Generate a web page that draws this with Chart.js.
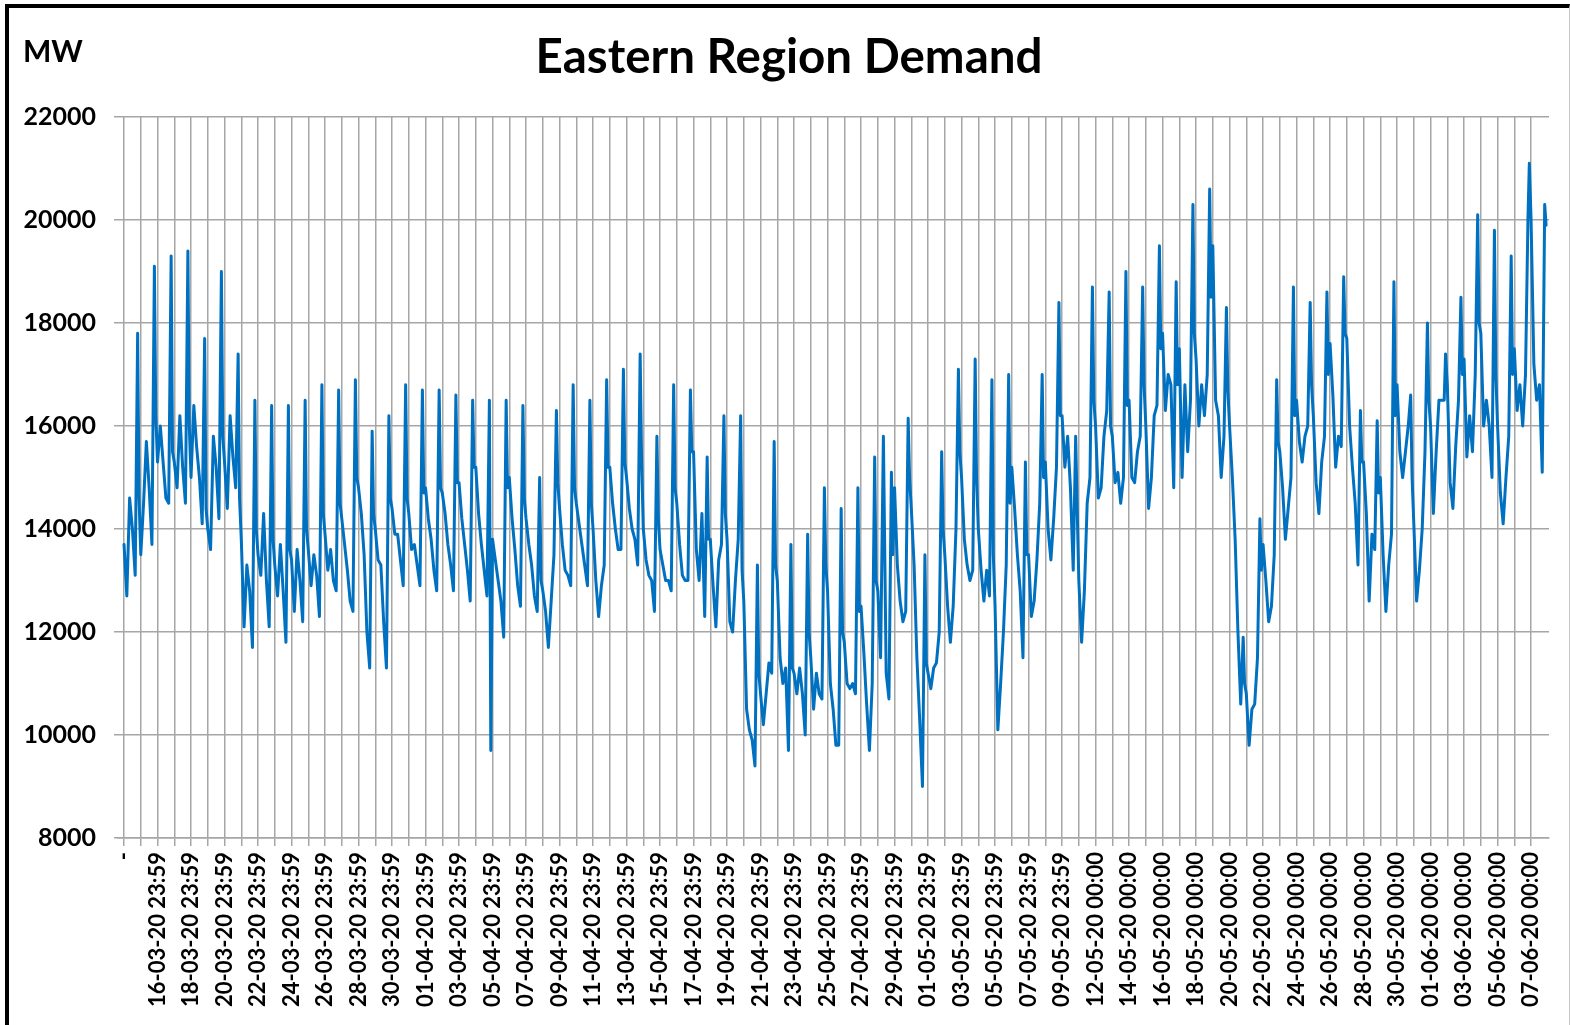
<!DOCTYPE html>
<html>
<head>
<meta charset="utf-8">
<script src="https://cdn.jsdelivr.net/npm/chart.js@4.4.1/dist/chart.umd.min.js"></script>
<style>
html,body{margin:0;padding:0;background:#fff;}
#wrap{position:relative;width:1570px;height:1025px;overflow:hidden;background:#fff;}
#c{position:absolute;left:0;top:0;}
#frame{position:absolute;left:5px;top:4px;width:1560px;height:1060px;border-left:4px solid #000;border-top:4px solid #000;border-right:1px solid #c8c8c8;pointer-events:none;}
</style>
</head>
<body>
<div id="wrap"><canvas id="c" width="1570" height="1025"></canvas><div id="frame"></div></div>
<script>
// Hours of the day at which each daily row of values is sampled
const sampleHours = [0, 4, 8, 12, 16, 19.5, 21.5];

// Demand in MW, one row per day (15-03-2020 ... 31-03-2020)
const marchMW = [
  [13700, 12700, 14600, 14000, 13100, 17800, 14600],
  [13500, 14500, 15700, 14800, 13700, 19100, 16200],
  [15300, 16000, 15300, 14600, 14500, 19300, 15500],
  [15300, 14800, 16200, 15200, 14500, 19400, 16000],
  [15000, 16400, 15600, 15000, 14100, 17700, 14400],
  [14000, 13600, 15800, 15200, 14200, 19000, 15800],
  [15300, 14400, 16200, 15400, 14800, 17400, 14600],
  [13800, 12100, 13300, 12800, 11700, 16500, 14000],
  [13500, 13100, 14300, 13000, 12100, 16400, 13800],
  [13300, 12700, 13700, 12800, 11800, 16400, 13600],
  [13400, 12400, 13600, 13000, 12200, 16500, 14000],
  [13600, 12900, 13500, 13100, 12300, 16800, 14300],
  [13900, 13200, 13600, 13000, 12800, 16700, 14500],
  [14200, 13700, 13200, 12600, 12400, 16900, 15000],
  [14800, 14300, 13500, 12000, 11300, 15900, 14300],
  [14000, 13400, 13300, 12200, 11300, 16200, 14600],
  [14400, 13900, 13900, 13400, 12900, 16800, 14600]
];
// 01-04-2020 ... 30-04-2020
const aprilMW = [
  [14300, 13600, 13700, 13300, 12900, 16700, 14700],
  [14800, 14200, 13800, 13200, 12800, 16700, 14800],
  [14700, 14300, 13700, 13300, 12800, 16600, 14900],
  [14900, 14200, 13700, 13200, 12600, 16500, 15200],
  [15200, 14300, 13700, 13200, 12700, 16500, 9700],
  [13800, 13400, 13000, 12600, 11900, 16500, 14800],
  [15000, 14200, 13600, 12900, 12500, 16400, 14600],
  [14200, 13700, 13300, 12700, 12400, 15000, 13000],
  [12800, 12400, 11700, 12600, 13500, 16300, 14900],
  [14400, 13700, 13200, 13100, 12900, 16800, 14800],
  [14500, 14100, 13700, 13300, 12900, 16500, 14500],
  [14000, 13000, 12300, 12900, 13300, 16900, 15200],
  [15200, 14500, 14000, 13600, 13600, 17100, 15300],
  [15000, 14400, 14000, 13800, 13300, 17400, 15400],
  [14000, 13400, 13100, 13000, 12400, 15800, 14200],
  [13600, 13300, 13000, 13000, 12800, 16800, 14800],
  [14500, 13700, 13100, 13000, 13000, 16700, 15500],
  [15500, 13600, 13000, 14300, 12300, 15400, 13800],
  [13800, 12900, 12100, 13400, 13700, 16200, 14300],
  [13800, 12200, 12000, 13000, 13800, 16200, 13200],
  [12600, 10500, 10100, 9900, 9400, 13300, 11200],
  [10800, 10200, 10800, 11400, 11200, 15700, 13300],
  [13000, 11500, 11000, 11300, 9700, 13700, 11300],
  [11200, 10800, 11300, 10800, 10000, 13900, 12000],
  [11500, 10500, 11200, 10800, 10700, 14800, 13300],
  [12800, 11000, 10500, 9800, 9800, 14400, 12000],
  [11800, 11000, 10900, 11000, 10800, 14800, 12400],
  [12500, 11600, 10600, 9700, 11000, 15400, 13000],
  [12800, 11500, 15800, 11200, 10700, 15100, 13500],
  [14800, 13300, 12600, 12200, 12400, 16150, 15000]
];
// 01-05-2020 ... 31-05-2020
const mayMW = [
  [14400, 13300, 11500, 10300, 9000, 13500, 11400],
  [11200, 10900, 11300, 11400, 12000, 15500, 14000],
  [13500, 12500, 11800, 12500, 14000, 17100, 15500],
  [15000, 13800, 13300, 13000, 13200, 17300, 15000],
  [14000, 13200, 12600, 13200, 12700, 16900, 13500],
  [12500, 10100, 11000, 12000, 13300, 17000, 14500],
  [15200, 14400, 13500, 12800, 11500, 15300, 13500],
  [13500, 12300, 12600, 13400, 14500, 17000, 15000],
  [15300, 14000, 13400, 14200, 15200, 18400, 16200],
  [16200, 15200, 15800, 14800, 13200, 15800, 14500],
  [13000, 11800, 12800, 14500, 15000, 18700, 16500],
  [16000, 14600, 14800, 15800, 16300, 18600, 16000],
  [15800, 14900, 15100, 14500, 15000, 19000, 16400],
  [16500, 15000, 14900, 15500, 15800, 18700, 16800],
  [16000, 14400, 15000, 16200, 16400, 19500, 17500],
  [17800, 16300, 17000, 16800, 14800, 18800, 16800],
  [17500, 15000, 16800, 15500, 16500, 20300, 17800],
  [17300, 16000, 16800, 16200, 17000, 20600, 18500],
  [19500, 16500, 16200, 15000, 15800, 18300, 16700],
  [16000, 15000, 13800, 12000, 10600, 11900, 11000],
  [10800, 9800, 10500, 10600, 11500, 14200, 13200],
  [13700, 13000, 12200, 12500, 13500, 16900, 15700],
  [15500, 14800, 13800, 14400, 15000, 18700, 16200],
  [16500, 15700, 15300, 15800, 16000, 18400, 16800],
  [16200, 14900, 14300, 15300, 15800, 18600, 17000],
  [17600, 16600, 15200, 15800, 15600, 18900, 17800],
  [17700, 16000, 15200, 14500, 13300, 16300, 15300],
  [15300, 14300, 12600, 13900, 13600, 16100, 14700],
  [15000, 13500, 12400, 13300, 13900, 18800, 16200],
  [16800, 15500, 15000, 15500, 16000, 16600, 15000],
  [14100, 12600, 13200, 14000, 15500, 18000, 16500]
];
// 01-06-2020 ... 07-06-2020
const juneMW = [
  [16000, 14300, 15500, 16500, 16500, 16500, 17400],
  [16800, 14900, 14400, 15600, 16500, 18500, 17000],
  [17300, 15400, 16200, 15500, 17000, 20100, 18000],
  [17800, 16000, 16500, 16000, 15000, 19800, 17000],
  [16000, 14700, 14100, 15000, 15800, 19300, 17000],
  [17500, 16300, 16800, 16000, 17000, 20000, 21100],
  [20000, 17200, 16500, 16800, 15100, 20300, 19900]
];

// Category tick labels, one every second day boundary
const tickLabels = [
  "-",
  "16-03-20 23:59","18-03-20 23:59","20-03-20 23:59","22-03-20 23:59","24-03-20 23:59",
  "26-03-20 23:59","28-03-20 23:59","30-03-20 23:59",
  "01-04-20 23:59","03-04-20 23:59","05-04-20 23:59","07-04-20 23:59","09-04-20 23:59",
  "11-04-20 23:59","13-04-20 23:59","15-04-20 23:59","17-04-20 23:59","19-04-20 23:59",
  "21-04-20 23:59","23-04-20 23:59","25-04-20 23:59","27-04-20 23:59","29-04-20 23:59",
  "01-05-20 23:59","03-05-20 23:59","05-05-20 23:59","07-05-20 23:59","09-05-20 23:59",
  "12-05-20 00:00","14-05-20 00:00","16-05-20 00:00","18-05-20 00:00","20-05-20 00:00",
  "22-05-20 00:00","24-05-20 00:00","26-05-20 00:00","28-05-20 00:00","30-05-20 00:00",
  "01-06-20 00:00","03-06-20 00:00","05-06-20 00:00","07-06-20 00:00"
];

const yTicksMW = { min: 8000, max: 22000, step: 2000 };
const chartTitle = 'Eastern Region Demand';
const unitLabel = 'MW';

// Build line points from the daily rows (x = day index + fraction of day)
const allDays = [].concat(marchMW, aprilMW, mayMW, juneMW);
const points = [];
allDays.forEach((row, d) => {
  row.forEach((v, i) => points.push({ x: d + sampleHours[i] / 24, y: v }));
});
const lastGrid = (tickLabels.length - 1) * 2;

// Draws the heading and the unit label
const textPlugin = {
  id: 'headings',
  afterDraw(chart) {
    const c = chart.ctx;
    c.save();
    c.fillStyle = '#000';
    c.font = 'bold 47.5px Lato';
    c.textAlign = 'center';
    c.textBaseline = 'middle';
    c.fillText(chartTitle, 789, 57.5);
    c.font = 'bold 30px Lato';
    c.textAlign = 'left';
    c.textBaseline = 'alphabetic';
    c.fillText(unitLabel, 23, 62);
    c.restore();
  }
};

function draw() {
  new Chart(document.getElementById('c'), {
    type: 'line',
    data: {
      datasets: [{
        data: points,
        borderColor: '#0070C0',
        borderWidth: 3,
        borderJoinStyle: 'round',
        borderCapStyle: 'round',
        pointRadius: 0,
        tension: 0,
        fill: false
      }]
    },
    options: {
      responsive: false,
      animation: false,
      layout: { padding: { left: 0, right: 21, top: 117, bottom: 0 } },
      plugins: {
        legend: { display: false },
        tooltip: { enabled: false },
        title: { display: false }
      },
      scales: {
        x: {
          type: 'linear',
          min: -0.36,
          max: 85.07,
          afterFit: s => { s.height = 187; s.paddingLeft = 0; s.paddingRight = 0; },
          grid: {
            color: ctx => (ctx.tick && ctx.tick.value > lastGrid) ? 'rgba(0,0,0,0)' : '#a6a6a6',
            lineWidth: 1.5,
            tickLength: 8
          },
          border: { display: true, color: '#a6a6a6', width: 1.5 },
          ticks: {
            stepSize: 1,
            maxTicksLimit: 500,
            autoSkip: false,
            includeBounds: false,
            maxRotation: 90,
            minRotation: 90,
            padding: 6,
            color: '#000',
            font: { family: 'Lato', weight: 'bold', size: 22 },
            callback: v => (Number.isInteger(v) && v >= 0 && v % 2 === 0 && v / 2 < tickLabels.length) ? tickLabels[v / 2] : ''
          }
        },
        y: {
          min: yTicksMW.min,
          max: yTicksMW.max,
          afterFit: s => { s.width = 118; s.paddingTop = 0; s.paddingBottom = 0; },
          grid: { color: '#a6a6a6', lineWidth: 1.5, tickLength: 4 },
          border: { display: false },
          ticks: {
            stepSize: yTicksMW.step,
            padding: 18,
            color: '#000',
            font: { family: 'Lato', weight: 'bold', size: 25 },
            callback: v => String(v)
          }
        }
      }
    },
    plugins: [textPlugin]
  });
}

if (document.fonts && document.fonts.load) {
  Promise.all([document.fonts.load('bold 24px Lato'), document.fonts.load('bold 46px Lato')]).then(draw, draw);
} else {
  draw();
}
</script>
</body>
</html>
